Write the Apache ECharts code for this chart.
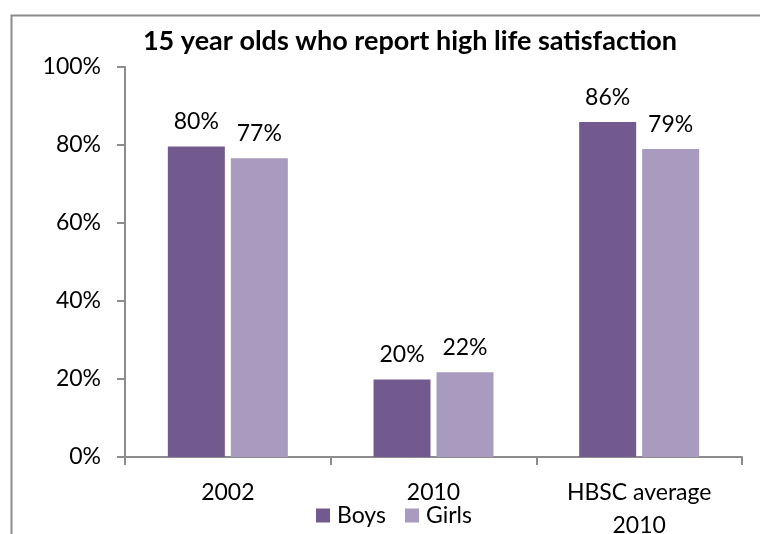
<!DOCTYPE html>
<html>
<head>
<meta charset="utf-8">
<script src="https://cdn.jsdelivr.net/npm/echarts@6/dist/echarts.min.js"></script>
<style>
  html, body { margin: 0; padding: 0; background: #ffffff; }
  #chart { width: 760px; height: 534px; }
</style>
</head>
<body>
<div id="chart"></div>
<script>
// Survey groups along the x axis
const categories = ['2002', '2010', 'HBSC average\n2010'];
// Share of 15 year olds reporting high life satisfaction (%)
const boys = [79.6, 19.9, 85.9];
const girls = [76.6, 21.7, 79.0];
// Value axis ticks (%)
const yTicks = [0, 20, 40, 60, 80, 100];

const FONT = 'Lato';
const AXIS_GREY = '#8c8c8c';

const chart = echarts.init(document.getElementById('chart'), null, { renderer: 'canvas' });

const pctLabel = {
  show: true,
  position: 'top',
  distance: 13,
  fontFamily: FONT,
  fontSize: 23,
  color: '#000',
  formatter: p => Math.round(p.value) + '%'
};

chart.setOption({
  animation: false,
  backgroundColor: '#ffffff',
  title: {
    text: '15 year olds who report high life satisfaction',
    left: 405,
    textAlign: 'center',
    top: 23,
    textStyle: { fontFamily: FONT, fontWeight: 'bold', fontSize: 27, color: '#000' }
  },
  legend: {
    data: ['Boys', 'Girls'],
    left: 316,
    top: 504,
    padding: 0,
    itemWidth: 14,
    itemHeight: 14,
    itemGap: 19,
    icon: 'rect',
    textStyle: { fontFamily: FONT, fontSize: 23, color: '#000', padding: [0, 0, 0, 2] }
  },
  grid: { left: 125, right: 18, top: 67, bottom: 77, outerBoundsMode: 'none', containLabel: false },
  xAxis: {
    type: 'category',
    data: categories,
    axisLine: { lineStyle: { color: AXIS_GREY, width: 2 } },
    axisTick: { show: true, length: 8, lineStyle: { color: AXIS_GREY, width: 2 } },
    axisLabel: { fontFamily: FONT, fontSize: 23, color: '#000', margin: 19, lineHeight: 33 }
  },
  yAxis: {
    type: 'value',
    min: yTicks[0],
    max: yTicks[yTicks.length - 1],
    interval: yTicks[1] - yTicks[0],
    axisLine: { show: true, lineStyle: { color: AXIS_GREY, width: 2 } },
    axisTick: { show: true, length: 8, lineStyle: { color: AXIS_GREY, width: 2 } },
    splitLine: { show: false },
    axisLabel: { fontFamily: FONT, fontSize: 23, color: '#000', margin: 24, formatter: '{value}%' }
  },
  series: [
    {
      name: 'Boys',
      type: 'bar',
      data: boys,
      barWidth: 57,
      barGap: '10.5%',
      itemStyle: { color: '#725a8e' },
      label: pctLabel
    },
    {
      name: 'Girls',
      type: 'bar',
      data: girls,
      barWidth: 57,
      barGap: '10.5%',
      itemStyle: { color: '#a99abf' },
      label: pctLabel
    }
  ],
  graphic: [
    // Chart frame: top and left edges
    {
      type: 'polyline',
      silent: true,
      shape: { points: [[11.5, 540], [11.5, 15.5], [770, 15.5]] },
      style: { stroke: '#8c8c8c', lineWidth: 2, fill: null }
    }
  ]
});
</script>
</body>
</html>
